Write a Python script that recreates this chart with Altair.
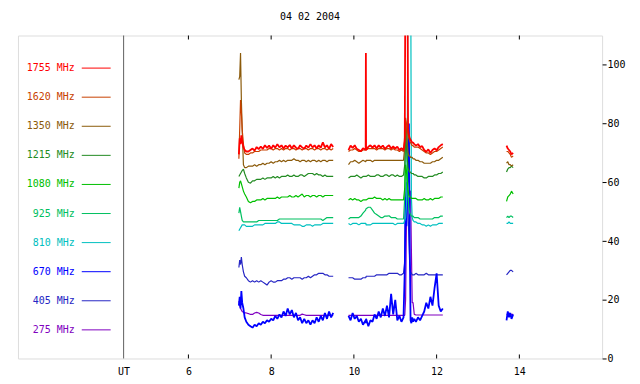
import altair as alt
import pandas as pd

FONT = "DejaVu Sans Mono"

# legend order, top to bottom
FREQS = ["1755 MHz", "1620 MHz", "1350 MHz", "1215 MHz", "1080 MHz",
         "925 MHz", "810 MHz", "670 MHz", "405 MHz", "275 MHz"]
COLORS = ["#ff0000", "#c84000", "#8b5a0a", "#228b22", "#00c000",
          "#00c060", "#00c0c0", "#0000ff", "#2626c4", "#8000c0"]

UT_X = 4.434
X_TICKS = [6, 8, 10, 12, 14]
Y_TICKS = [0, 20, 40, 60, 80, 100]

T1 = [7.22, 7.24, 7.26, 7.28, 7.30, 7.33, 7.36, 7.40, 7.45, 7.50,
      7.55, 7.60, 7.65, 7.70, 7.75, 7.80, 7.85, 7.90, 7.95, 8.00,
      8.05, 8.10, 8.15, 8.20, 8.25, 8.30, 8.35, 8.40, 8.45, 8.50,
      8.55, 8.60, 8.65, 8.70, 8.75, 8.80, 8.85, 8.90, 8.95, 9.00,
      9.05, 9.10, 9.15, 9.20, 9.25, 9.30, 9.35, 9.40, 9.45, 9.50]
T2 = [9.87, 9.92, 9.97, 10.02, 10.07, 10.12, 10.17, 10.22, 10.285, 10.29,
      10.295, 10.35, 10.40, 10.45, 10.50, 10.55, 10.60, 10.65, 10.70, 10.75,
      10.80, 10.85, 10.90, 10.95, 11.00, 11.05, 11.10, 11.15, 11.20, 11.23,
      11.25, 11.27, 11.29, 11.31, 11.33, 11.35, 11.37, 11.39, 11.41, 11.43,
      11.46, 11.50, 11.55, 11.60, 11.65, 11.70, 11.75, 11.80, 11.85, 11.90,
      11.95, 12.00, 12.05, 12.10, 12.15]
T3 = [13.69, 13.72, 13.75, 13.78, 13.81, 13.85]

F275 = (
    [19.5, 18.0, 17.0, 16.5, 16.0, 15.7, 15.5, 15.5, 15.3, 15.0,
     15.0, 15.5, 15.7, 15.5, 15.0, 14.7, 14.7, 14.7, 14.7, 14.7,
     14.7, 14.7, 14.7, 14.7, 14.7, 14.7, 14.7, 14.7, 14.7, 14.7,
     14.7, 14.7, 14.7, 14.7, 15.1, 14.9, 14.7, 14.7, 14.7, 14.7,
     14.7, 14.7, 14.7, 14.7, 14.7, 14.7, 14.7, 14.7, 14.7, 14.7],
    [14.7, 14.7, 14.7, 14.7, 14.7, 14.7, 14.7, 14.7, 14.7, 14.7,
     14.7, 14.7, 14.7, 14.7, 14.7, 14.7, 14.7, 14.7, 14.7, 14.7,
     14.7, 14.7, 14.7, 14.7, 14.7, 14.7, 14.7, 14.7, 14.7, 14.7,
     20.0, 45.0, 57.0, 57.0, 57.0, 57.0, 57.0, 37.0, 19.0, 19.0,
     15.0, 14.8, 14.8, 14.8, 14.8, 14.8, 14.8, 14.8, 14.8, 14.8,
     14.8, 14.8, 14.8, 14.8, 14.8],
    [15.0, 15.0, 15.5, 15.0, 15.0, 15.0])

F405 = (
    [31.0, 33.5, 32.0, 34.5, 32.0, 29.5, 28.0, 27.5, 26.5, 26.0,
     26.5, 26.0, 26.5, 26.0, 26.5, 26.0, 25.5, 25.0, 26.0, 26.5,
     26.0, 26.0, 26.5, 26.5, 26.5, 27.0, 27.0, 27.5, 27.5, 27.0,
     27.5, 27.5, 27.5, 27.5, 27.0, 27.5, 27.5, 28.0, 27.5, 28.0,
     28.5, 28.5, 29.0, 29.0, 29.0, 28.5, 28.5, 28.0, 28.0, 28.0],
    [27.5, 27.5, 27.5, 27.0, 27.0, 27.0, 27.0, 27.5, 27.5, 27.5,
     28.0, 28.0, 28.0, 28.0, 28.0, 28.5, 28.5, 28.5, 28.5, 28.5,
     28.5, 29.0, 29.0, 29.0, 29.0, 29.0, 28.5, 28.5, 29.0, 33.0,
     55.0, 60.0, 58.0, 50.0, 40.0, 32.0, 29.5, 29.0, 28.5, 28.5,
     28.5, 29.0, 28.5, 28.5, 28.5, 28.5, 29.0, 28.5, 28.5, 28.5,
     28.5, 28.5, 28.5, 28.5, 28.5],
    [28.5, 29.0, 29.5, 30.0, 30.0, 29.5])

F670 = (
    [18.0, 21.0, 17.0, 23.0, 19.0, 17.0, 14.0, 12.5, 11.5, 11.0,
     10.5, 11.5, 11.0, 12.0, 11.5, 12.5, 12.0, 13.0, 12.5, 13.5,
     13.0, 14.5, 13.5, 15.0, 14.0, 16.0, 14.5, 17.0, 15.0, 16.5,
     14.0, 15.5, 13.0, 14.0, 12.0, 13.5, 12.0, 13.0, 11.5, 13.0,
     12.0, 14.0, 12.5, 14.5, 13.0, 15.5, 13.5, 16.0, 14.0, 15.5],
    [14.5, 13.0, 15.5, 13.5, 14.5, 12.5, 13.5, 11.5, 13.0, 12.0,
     13.5, 11.0, 13.0, 12.5, 15.0, 13.5, 16.0, 14.0, 17.0, 14.5,
     18.0, 14.0, 22.0, 15.0, 20.0, 13.0, 14.5, 12.5, 14.0, 30.0,
     55.0, 45.0, 58.0, 65.0, 80.0, 40.0, 13.0, 12.0, 14.0, 12.5,
     13.5, 12.5, 14.0, 13.0, 14.5, 16.0, 19.0, 17.0, 21.0, 18.0,
     24.0, 29.0, 18.0, 16.0, 17.0],
    [13.0, 16.0, 14.0, 15.5, 13.5, 15.0])

F810 = (
    [43.5, 44.0, 44.5, 45.0, 45.5, 45.5, 45.5, 45.0, 45.0, 45.0,
     45.0, 45.5, 45.5, 45.5, 45.5, 45.5, 46.0, 46.0, 46.0, 46.0,
     46.0, 46.0, 46.5, 46.5, 46.0, 46.0, 46.0, 46.0, 46.0, 46.0,
     45.5, 45.5, 45.5, 45.5, 45.0, 45.0, 45.5, 45.5, 45.5, 45.0,
     45.5, 45.5, 45.5, 45.5, 46.0, 46.0, 46.0, 46.0, 46.0, 46.0],
    [46.0, 45.5, 46.0, 46.0, 46.0, 45.5, 46.0, 46.0, 46.0, 46.0,
     45.5, 45.5, 45.5, 46.0, 46.0, 46.0, 46.0, 46.0, 46.0, 46.0,
     46.0, 46.0, 46.0, 46.0, 45.5, 46.0, 46.0, 46.0, 46.0, 47.0,
     48.0, 52.0, 65.0, 150.0, 150.0, 150.0, 150.0, 55.0, 48.0, 47.0,
     46.5, 46.5, 46.0, 46.0, 45.5, 45.5, 45.0, 45.5, 45.0, 45.5,
     45.5, 45.5, 46.0, 46.0, 46.0],
    [46.0, 46.0, 46.5, 46.0, 46.0, 46.0])

F925 = (
    [49.5, 51.5, 50.0, 48.5, 47.0, 46.5, 46.5, 46.5, 46.5, 46.5,
     46.5, 46.5, 46.5, 47.0, 47.0, 47.0, 47.0, 47.0, 47.0, 47.0,
     47.0, 47.0, 47.0, 47.5, 47.5, 47.5, 47.5, 47.5, 47.5, 47.5,
     47.5, 47.5, 47.5, 47.5, 47.5, 47.5, 47.5, 47.5, 47.5, 47.5,
     47.5, 47.5, 47.5, 47.5, 47.0, 47.5, 48.0, 48.0, 48.0, 48.0],
    [47.5, 48.0, 48.0, 48.0, 48.0, 48.0, 48.5, 49.5, 50.5, 51.0,
     51.0, 51.5, 51.5, 50.5, 49.5, 49.0, 48.5, 48.0, 48.0, 48.5,
     48.5, 48.6, 48.0, 48.0, 48.0, 47.5, 47.5, 47.5, 47.5, 55.0,
     80.0, 78.0, 65.0, 55.0, 51.0, 49.5, 49.0, 48.5, 48.5, 48.5,
     48.0, 48.0, 48.0, 47.5, 47.5, 47.5, 47.5, 47.5, 47.5, 47.5,
     48.0, 48.0, 48.0, 48.5, 48.5],
    [48.0, 48.5, 48.0, 48.5, 48.5, 48.0])

F1080 = (
    [58.0, 60.0, 60.5, 59.5, 58.5, 57.0, 56.0, 55.0, 53.5, 53.0,
     53.5, 53.5, 54.0, 54.0, 54.0, 54.5, 54.0, 54.5, 54.5, 54.5,
     54.5, 54.5, 55.0, 54.5, 55.0, 55.0, 55.0, 55.0, 55.5, 55.0,
     55.0, 55.5, 55.0, 55.5, 56.0, 55.0, 55.5, 55.5, 55.0, 55.5,
     55.5, 55.0, 55.5, 55.5, 55.0, 55.5, 55.5, 55.5, 55.5, 55.5],
    [54.0, 54.5, 54.0, 54.5, 54.0, 54.0, 53.5, 54.0, 54.0, 54.0,
     54.0, 54.5, 54.5, 54.5, 55.0, 54.5, 54.5, 54.5, 54.0, 54.5,
     54.0, 54.5, 54.0, 54.0, 54.0, 54.0, 54.0, 54.0, 54.0, 58.0,
     66.0, 64.0, 60.0, 57.0, 55.5, 55.0, 55.0, 54.5, 54.5, 54.5,
     54.5, 54.5, 54.0, 54.0, 54.0, 54.5, 54.0, 54.0, 54.5, 54.0,
     54.5, 54.5, 54.5, 55.0, 55.0],
    [53.5, 55.0, 55.5, 56.0, 57.0, 56.0])

F1215 = (
    [62.0, 62.5, 63.0, 63.5, 64.0, 64.5, 63.0, 61.5, 60.0, 59.7,
     60.5, 60.5, 61.0, 61.0, 61.0, 61.5, 61.0, 61.5, 61.5, 61.5,
     62.0, 61.5, 62.0, 61.5, 62.0, 62.0, 62.0, 62.5, 62.0, 62.0,
     62.5, 62.0, 62.0, 62.5, 62.5, 62.0, 62.5, 63.0, 63.0, 63.0,
     62.5, 63.0, 62.5, 62.5, 62.0, 62.5, 62.0, 62.0, 62.0, 62.0],
    [61.5, 62.0, 62.0, 62.0, 62.5, 62.0, 61.5, 62.0, 62.0, 62.0,
     62.0, 62.5, 62.0, 62.0, 62.0, 62.5, 62.5, 62.0, 62.0, 62.5,
     62.5, 62.0, 62.5, 62.5, 62.0, 62.5, 62.0, 62.0, 62.5, 66.0,
     76.0, 72.0, 68.0, 65.0, 64.0, 63.5, 63.5, 63.0, 63.0, 63.0,
     62.5, 62.5, 62.0, 62.0, 62.0, 61.5, 61.5, 62.0, 62.0, 62.0,
     62.5, 62.5, 63.0, 63.0, 63.5],
    [63.5, 64.5, 65.0, 65.0, 65.5, 65.0])

F1350 = (
    [95.0, 96.0, 104.0, 88.0, 78.0, 66.0, 65.0, 65.0, 65.5, 65.5,
     65.5, 66.0, 65.5, 66.0, 66.0, 66.5, 66.0, 66.5, 66.5, 67.0,
     66.5, 67.0, 67.0, 67.5, 67.0, 67.5, 67.0, 67.5, 67.5, 67.5,
     68.0, 67.5, 67.5, 67.0, 67.5, 67.5, 67.0, 67.5, 67.0, 67.5,
     67.5, 67.0, 67.5, 67.0, 67.5, 67.5, 67.0, 67.5, 67.5, 67.5],
    [66.0, 67.0, 67.0, 67.5, 67.0, 66.5, 67.0, 67.5, 67.0, 67.0,
     67.5, 67.5, 67.5, 67.0, 67.5, 67.5, 67.5, 67.5, 67.5, 67.5,
     67.5, 67.5, 67.5, 67.5, 67.5, 67.5, 67.5, 67.5, 67.5, 72.0,
     81.0, 78.0, 74.0, 70.0, 69.0, 69.0, 68.5, 68.5, 68.5, 68.0,
     68.0, 67.5, 67.5, 67.0, 67.0, 66.5, 66.5, 66.5, 66.5, 67.0,
     67.0, 67.5, 67.5, 68.0, 68.5],
    [66.5, 67.0, 66.0, 66.0, 65.5, 66.0])

F1620 = (
    [68.0, 78.0, 88.0, 84.0, 78.0, 73.0, 70.0, 69.5, 69.5, 70.0,
     70.0, 70.5, 70.5, 70.5, 71.0, 71.0, 71.0, 71.0, 71.5, 71.5,
     71.0, 71.5, 71.5, 71.0, 71.5, 71.0, 71.5, 71.5, 71.0, 71.5,
     71.5, 71.0, 71.5, 71.5, 71.0, 71.5, 71.5, 71.0, 71.5, 71.5,
     71.0, 71.5, 71.5, 71.0, 71.5, 71.5, 71.0, 71.5, 71.0, 71.5],
    [70.5, 71.0, 71.0, 71.5, 71.0, 70.5, 70.5, 71.0, 71.0, 71.0,
     71.0, 71.5, 71.5, 71.5, 71.5, 71.0, 71.5, 71.5, 71.5, 71.0,
     71.5, 71.5, 71.0, 71.5, 71.0, 71.0, 70.5, 71.0, 70.5, 76.0,
     82.0, 80.0, 78.0, 76.0, 75.0, 74.0, 73.5, 73.0, 72.5, 72.5,
     72.0, 72.0, 72.0, 71.5, 71.0, 70.5, 70.0, 70.0, 69.5, 70.0,
     70.5, 70.5, 71.0, 71.5, 72.0],
    [70.5, 70.5, 70.0, 69.5, 68.5, 69.0])

F1755 = (
    [69.5, 75.0, 73.0, 76.0, 74.0, 72.0, 71.0, 70.5, 70.5, 71.0,
     71.5, 70.8, 72.0, 71.3, 72.2, 71.4, 72.6, 71.7, 72.5, 71.4,
     72.6, 71.8, 73.0, 71.9, 72.6, 71.5, 72.5, 71.9, 72.7, 71.5,
     72.6, 71.8, 71.4, 72.6, 71.9, 71.4, 72.5, 71.8, 73.0, 71.9,
     72.6, 71.5, 72.6, 71.8, 73.6, 71.9, 72.6, 71.4, 73.0, 72.0],
    [71.0, 72.5, 71.7, 72.6, 71.4, 71.0, 70.6, 71.6, 71.0, 104.0,
     71.0, 72.1, 72.6, 71.8, 72.6, 71.5, 72.6, 71.8, 72.5, 71.4,
     72.1, 72.6, 71.5, 72.2, 71.5, 72.1, 71.0, 71.6, 71.0, 74.0,
     150.0, 150.0, 150.0, 78.0, 76.0, 75.0, 74.5, 74.0, 73.5, 73.5,
     73.0, 72.5, 73.0, 72.0, 72.3, 71.0, 70.4, 71.2, 70.0, 71.0,
     71.5, 70.9, 72.0, 72.6, 73.0],
    [72.5, 71.5, 71.0, 70.5, 69.5, 70.0])

# drawing order: lowest frequency first, 1755 MHz on top
SERIES = [("275 MHz", F275), ("405 MHz", F405), ("670 MHz", F670),
          ("810 MHz", F810), ("925 MHz", F925), ("1080 MHz", F1080),
          ("1215 MHz", F1215), ("1350 MHz", F1350), ("1620 MHz", F1620),
          ("1755 MHz", F1755)]

rows = []
for name, segs in SERIES:
    for si, (ts, vs) in enumerate(zip((T1, T2, T3), segs)):
        assert len(ts) == len(vs), (name, si, len(ts), len(vs))
        for t, v in zip(ts, vs):
            rows.append({"freq": name, "seg": si, "t": t, "v": v})
df = pd.DataFrame(rows)

W, H = 586, 324
xscale = alt.Scale(domain=[1.88, 16.0], nice=False, zero=False)
yscale = alt.Scale(domain=[0, 110], nice=False, zero=False)
cscale = alt.Scale(domain=FREQS, range=COLORS)

lines = alt.Chart(df).mark_line(clip=True, strokeJoin="bevel").encode(
    x=alt.X("t:Q", scale=xscale,
            axis=alt.Axis(values=[UT_X] + X_TICKS,
                          labelExpr="datum.value < 5 ? 'UT' : datum.label",
                          ticks=False, domain=False, grid=False, title=None,
                          labelPadding=8, labelFont=FONT, labelFontSize=10,
                          labelColor="black", labelFlush=False)),
    y=alt.Y("v:Q", scale=yscale,
            axis=alt.Axis(orient="right", values=Y_TICKS, tickSize=4,
                          tickColor="black", labelPadding=1, domain=False,
                          grid=False, title=None, labelFont=FONT,
                          labelFontSize=10, labelColor="black",
                          labelFlush=False)),
    color=alt.Color("freq:N", scale=cscale, legend=None),
    detail="seg:N",
    strokeWidth=alt.condition(
        "datum.freq == '1755 MHz' || datum.freq == '670 MHz'",
        alt.value(1.8), alt.value(1.2)),
)

ut_df = pd.DataFrame({"t": [UT_X]})
ut_line = alt.Chart(ut_df).mark_rule(color="#606060", strokeWidth=1).encode(
    x=alt.X("t:Q", scale=xscale), y=alt.value(0), y2=alt.value(H))

tick_df = pd.DataFrame({"t": X_TICKS})
ticks_bottom = alt.Chart(tick_df).mark_rule(color="black").encode(
    x=alt.X("t:Q", scale=xscale), y=alt.value(H - 4), y2=alt.value(H))
ticks_top = alt.Chart(tick_df).mark_rule(color="black").encode(
    x=alt.X("t:Q", scale=xscale), y=alt.value(0), y2=alt.value(4))

leg_df = pd.DataFrame({"freq": FREQS})
leg_y = alt.Y("freq:N", scale=alt.Scale(type="point", domain=FREQS,
                                        range=[32.7, 295.3], padding=0),
              axis=None)
leg_text = alt.Chart(leg_df).mark_text(
    align="right", baseline="middle", font=FONT, fontSize=10).encode(
    x=alt.value(57), y=leg_y, text="freq:N",
    color=alt.Color("freq:N", scale=cscale, legend=None))
leg_rule = alt.Chart(leg_df).mark_rule(strokeWidth=1).encode(
    x=alt.value(64), x2=alt.value(93), y=leg_y,
    color=alt.Color("freq:N", scale=cscale, legend=None))

chart = alt.layer(lines, ut_line, ticks_bottom, ticks_top, leg_text, leg_rule).resolve_scale(
    y="independent"
).properties(
    width=W, height=H,
    title=alt.TitleParams("04 02 2004", font=FONT, fontSize=10,
                          fontWeight="normal", anchor="middle", offset=13,
                          color="black"),
    autosize=alt.AutoSizeParams(type="none"),
    padding={"left": 10, "top": 27, "right": 30, "bottom": 20},
).configure_view(stroke="black", strokeWidth=1).configure(background="white")

chart.save("out.html", embed_options={"renderer": "svg", "actions": False})
